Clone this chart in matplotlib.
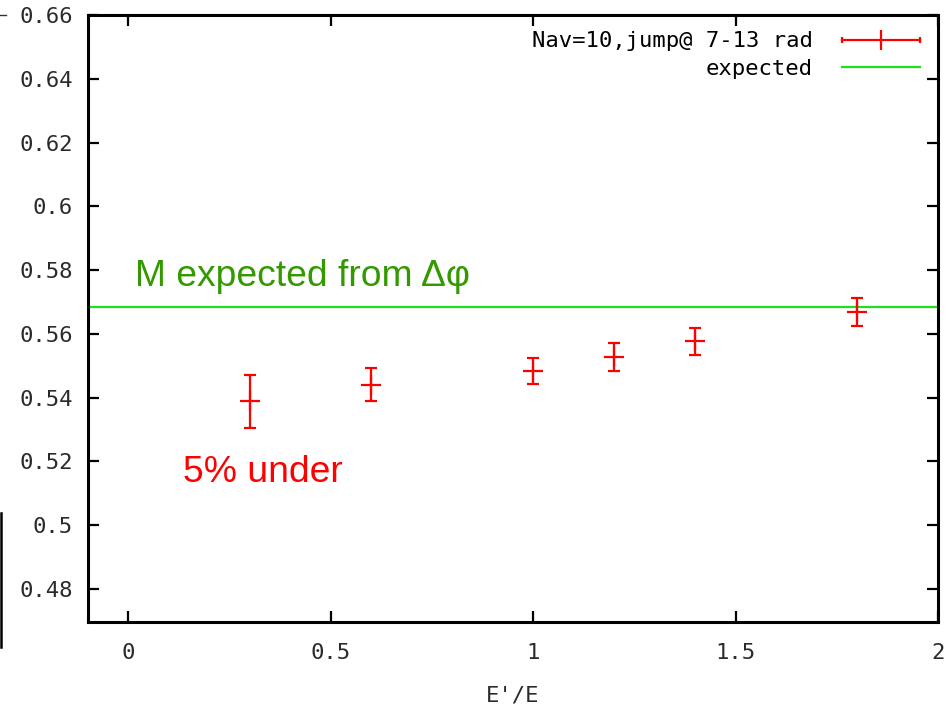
import matplotlib
matplotlib.use("Agg")
import matplotlib.pyplot as plt
from matplotlib.lines import Line2D
from matplotlib.legend_handler import HandlerLine2D, HandlerTuple
from matplotlib.ticker import FuncFormatter

# Measured ratio M versus E'/E, with statistical errors
ratio_e = [0.3, 0.6, 1.0, 1.2, 1.4, 1.8]
m_value = [0.5388, 0.5441, 0.5484, 0.5527, 0.5576, 0.5668]
m_error = [0.0082, 0.0053, 0.0040, 0.0043, 0.0043, 0.0043]
m_expected = 0.5684

x_ticks = [0, 0.5, 1, 1.5, 2]
y_ticks = [0.48, 0.50, 0.52, 0.54, 0.56, 0.58, 0.60, 0.62, 0.64, 0.66]

series_label = "Nav=10,jump@ 7-13 rad"
expected_label = "expected"
x_label = "E'/E"
note_expected = "M expected from \u0394\u03c6"
note_under = "5% under"

mono = "DejaVu Sans Mono"
sans = "Liberation Sans"
red = "#ff0000"
green = "#22dd22"

fig = plt.figure(figsize=(9.47, 7.09), dpi=100)
ax = fig.add_axes([0.0929, 0.1227, 0.8976, 0.8561])

ax.errorbar(ratio_e, m_value, yerr=m_error, fmt="+", color=red,
            ecolor=red, elinewidth=1.6, capsize=4.3, capthick=1.6,
            markersize=14.5, markeredgewidth=1.6, zorder=3)
ax.axhline(m_expected, color=green, lw=1.6, zorder=2)

ax.set_xlim(-0.1, 2.0)
ax.set_ylim(0.4696, 0.66)
ax.set_xticks(x_ticks)
ax.set_yticks(y_ticks)
fmt = FuncFormatter(lambda v, pos: "%g" % round(v, 4))
ax.xaxis.set_major_formatter(fmt)
ax.yaxis.set_major_formatter(fmt)
ax.tick_params(direction="in", length=8, width=1.6, top=True, right=True,
               labelsize=16, labelcolor="#2a2a2a")
ax.tick_params(axis="y", pad=11)
ax.tick_params(axis="x", pad=15)
for lab in ax.get_xticklabels() + ax.get_yticklabels():
    lab.set_family(mono)
for sp in ax.spines.values():
    sp.set_linewidth(2.2)

ax.set_xlabel(x_label, fontsize=16, family=mono, color="#2a2a2a",
              labelpad=16)

ax.text(0.017, 0.575, note_expected, color="#339900", fontsize=26.8,
        family=sans, ha="left", va="baseline")
ax.text(0.135, 0.5134, note_under, color=red, fontsize=26.8,
        family=sans, ha="left", va="baseline")

# gnuplot-style key: label on the left, sample with end caps on the right
caps = Line2D([], [], color=red, lw=1.6, marker="|", markersize=5,
              markeredgewidth=1.6)
center = Line2D([], [], color=red, lw=0, marker="|", markersize=14,
                markeredgewidth=1.6)
exp_handle = Line2D([], [], color=green, lw=1.6)
ax.legend([(caps, center), exp_handle], [series_label, expected_label],
          loc="upper right", bbox_to_anchor=(0.979, 0.973),
          frameon=False, markerfirst=False, borderpad=0, borderaxespad=0,
          handlelength=3.5, handletextpad=1.35, labelspacing=0.35,
          prop={"family": mono, "size": 16},
          handler_map={caps: HandlerLine2D(numpoints=2, marker_pad=0),
                       center: HandlerLine2D(numpoints=1),
                       tuple: HandlerTuple(ndivide=1)})

# fragments of a neighbouring panel at the left edge
fig.add_artist(Line2D([0.0, 0.006], [1 - 15 / 709, 1 - 15 / 709],
                      transform=fig.transFigure, color="#333333", lw=1))
fig.add_artist(Line2D([0.0015, 0.0015], [1 - 513 / 709, 1 - 647 / 709],
                      transform=fig.transFigure, color="black", lw=1.8))

fig.savefig("out.png", dpi=100)
